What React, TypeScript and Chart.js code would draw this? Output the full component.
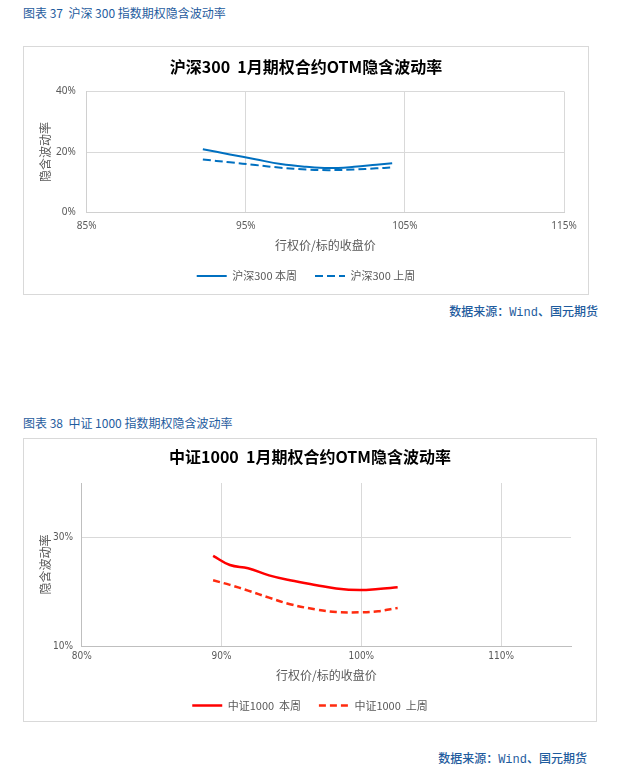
import React, { useEffect, useRef } from 'react';
import Chart from 'chart.js/auto';

// 沪深300 (figure 37)
const hs300Strikes = [92.3, 94.0, 95.6, 97.2, 98.8, 100.2, 101.8, 103.2, 104.2];
const hs300ThisWeek = [20.9, 19.2, 17.6, 16.0, 15.1, 14.7, 15.1, 15.8, 16.3];
const hs300LastWeek = [17.5, 16.6, 15.7, 14.8, 14.2, 14.0, 14.2, 14.6, 14.9];
const hs300XTicks = [85, 95, 105, 115];
const hs300YTicks = [0, 20, 40];

// 中证1000 (figure 38)
const zz1000Strikes = [89.4, 90.6, 91.9, 93.4, 94.9, 96.8, 98.2, 99.9, 101.2, 102.6];
const zz1000ThisWeek = [26.6, 24.9, 24.3, 23.0, 22.1, 21.2, 20.6, 20.3, 20.5, 20.8];
const zz1000LastWeek = [22.1, 21.25, 20.2, 18.9, 17.7, 16.7, 16.25, 16.2, 16.4, 17.0];
const zz1000XTicks = [80, 90, 100, 110];
const zz1000YTicks = [10, 30];

const cjk = '"Noto Sans CJK SC", "Noto Sans", sans-serif';
const narrow = '"Liberation Sans Narrow", "DejaVu Sans Condensed", "Noto Sans CJK SC", sans-serif';
const captionBlue = '#1F5C9E';
const grey = '#595959';

interface ChartSpec {
    title: string;
    labels: [string, string];
    strikes: number[];
    thisWeek: number[];
    lastWeek: number[];
    xTicks: number[];
    yTicks: number[];
    colors: [string, string];
    widths: [number, number];
    dash: number[];
    xMin: number; xMax: number;
    yMin: number; yMax: number;
    yAxisWidth: number;
    yTickPad: number;
    xTickPad: number;
    xAxisHeight: number;
    titlePad: { top: number; bottom: number };
    legendPad: number;
    bottomPad: number;
    rightPad: number;
    tickFont: string;
    gridColor: string;
    borderColor: string;
}

const VolChart: React.FC<{ spec: ChartSpec; width: number; height: number }> = ({ spec, width, height }) => {
    const canvasRef = useRef<HTMLCanvasElement>(null);
    const chartRef = useRef<Chart>();

    useEffect(() => {
        if (!canvasRef.current) return;
        const ctx = canvasRef.current.getContext('2d');
        if (!ctx) return;
        if (chartRef.current) chartRef.current.destroy();

        const s = spec;
        const defaultLabels = (Chart as any).defaults.plugins.legend.labels.generateLabels;

        chartRef.current = new Chart(ctx, {
            type: 'line',
            data: {
                datasets: [
                    {
                        label: s.labels[0],
                        data: s.strikes.map((x, i) => ({ x, y: s.thisWeek[i] })),
                        borderColor: s.colors[0],
                        backgroundColor: s.colors[0],
                        borderWidth: s.widths[0],
                        pointRadius: 0,
                        tension: 0.4,
                    },
                    {
                        label: s.labels[1],
                        data: s.strikes.map((x, i) => ({ x, y: s.lastWeek[i] })),
                        borderColor: s.colors[1],
                        backgroundColor: s.colors[1],
                        borderWidth: s.widths[1],
                        borderDash: s.dash,
                        pointRadius: 0,
                        tension: 0.4,
                    },
                ],
            },
            options: {
                animation: false,
                responsive: true,
                maintainAspectRatio: false,
                layout: { padding: { left: 0, top: 0, right: 0, bottom: s.bottomPad } },
                plugins: {
                    title: {
                        display: true,
                        text: s.title,
                        color: '#000000',
                        font: { family: cjk, size: 16, weight: 'bold', lineHeight: 1.2 },
                        padding: s.titlePad,
                    },
                    legend: {
                        position: 'bottom',
                        labels: {
                            usePointStyle: true,
                            pointStyle: 'line',
                            pointStyleWidth: 30,
                            padding: s.legendPad,
                            color: grey,
                            font: { family: cjk, size: 11 },
                            generateLabels: (chart: any) =>
                                defaultLabels(chart).map((item: any) => ({
                                    ...item,
                                    lineDash: chart.data.datasets[item.datasetIndex].borderDash || [],
                                    lineWidth: chart.data.datasets[item.datasetIndex].borderWidth,
                                    strokeStyle: chart.data.datasets[item.datasetIndex].borderColor,
                                })),
                        },
                    },
                    tooltip: { enabled: false },
                },
                scales: {
                    x: {
                        type: 'linear',
                        min: s.xMin,
                        max: s.xMax,
                        afterFit: (scale: any) => { scale.height = s.xAxisHeight; },
                        afterBuildTicks: (scale: any) => { scale.ticks = s.xTicks.map(value => ({ value })); },
                        ticks: {
                            padding: s.xTickPad,
                            color: grey,
                            font: { family: s.tickFont, size: 10 },
                            maxRotation: 0,
                            autoSkip: false,
                            callback: (v: string | number) => `${v}%`,
                        },
                        grid: { color: s.gridColor, drawTicks: false },
                        border: { color: s.borderColor },
                        title: {
                            display: true,
                            text: '行权价/标的收盘价',
                            color: grey,
                            font: { family: cjk, size: 12, lineHeight: 1.2 },
                            padding: { top: 0, bottom: 0 },
                        },
                    },
                    y: {
                        type: 'linear',
                        min: s.yMin,
                        max: s.yMax,
                        afterFit: (scale: any) => { scale.width = s.yAxisWidth; },
                        afterBuildTicks: (scale: any) => { scale.ticks = s.yTicks.map(value => ({ value })); },
                        ticks: {
                            padding: s.yTickPad,
                            color: grey,
                            font: { family: s.tickFont, size: 10 },
                            autoSkip: false,
                            callback: (v: string | number) => `${v}%`,
                        },
                        grid: { color: s.gridColor, drawTicks: false },
                        border: { color: s.borderColor },
                        title: {
                            display: true,
                            text: '隐含波动率',
                            color: grey,
                            font: { family: cjk, size: 12, lineHeight: 1.2 },
                            padding: { top: 13.8, bottom: 0 },
                        },
                    },
                    // empty right-hand spacer so the title and legend stay centred on the whole box
                    spacer: {
                        type: 'linear',
                        position: 'right',
                        afterFit: (scale: any) => { scale.width = s.rightPad; },
                        grid: { display: false, drawTicks: false },
                        border: { display: false },
                        ticks: { display: false },
                    },
                },
            },
        } as any);

        return () => {
            if (chartRef.current) {
                chartRef.current.destroy();
                chartRef.current = undefined;
            }
        };
    }, [spec]);

    return (
        <div style={{ position: 'relative', width, height }}>
            <canvas ref={canvasRef}></canvas>
        </div>
    );
};

const hs300Spec: ChartSpec = {
    title: '沪深300  1月期权合约OTM隐含波动率',
    labels: ['沪深300 本周', '沪深300 上周'],
    strikes: hs300Strikes,
    thisWeek: hs300ThisWeek,
    lastWeek: hs300LastWeek,
    xTicks: hs300XTicks,
    yTicks: hs300YTicks,
    colors: ['#0070C0', '#0070C0'],
    widths: [2, 2],
    dash: [8, 4],
    xMin: 85, xMax: 115,
    yMin: 0, yMax: 40,
    yAxisWidth: 62.7,
    yTickPad: 11,
    xTickPad: 7.4,
    xAxisHeight: 40,
    titlePad: { top: 10.1, bottom: 15.2 },
    legendPad: 18,
    bottomPad: 2.5,
    rightPad: 24,
    tickFont: '"Noto Sans", "Open Sans", sans-serif',
    gridColor: '#D9D9D9',
    borderColor: '#D0D0D0',
};

const zz1000Spec: ChartSpec = {
    title: '中证1000  1月期权合约OTM隐含波动率',
    labels: ['中证1000  本周', '中证1000  上周'],
    strikes: zz1000Strikes,
    thisWeek: zz1000ThisWeek,
    lastWeek: zz1000LastWeek,
    xTicks: zz1000XTicks,
    yTicks: zz1000YTicks,
    colors: ['#FF0000', '#FF2B0F'],
    widths: [2.5, 2.5],
    dash: [7, 4],
    xMin: 80, xMax: 115,
    yMin: 10, yMax: 40,
    yAxisWidth: 57.7,
    yTickPad: 8.7,
    xTickPad: 4,
    xAxisHeight: 36.2,
    titlePad: { top: 8.7, bottom: 16.1 },
    legendPad: 17.8,
    bottomPad: 0,
    rightPad: 25,
    tickFont: narrow,
    gridColor: '#D9D9D9',
    borderColor: '#BFBFBF',
};

const captionStyle: React.CSSProperties = {
    position: 'absolute',
    fontFamily: cjk,
    fontSize: 12,
    lineHeight: '14px',
    color: captionBlue,
    whiteSpace: 'nowrap',
};

const Source: React.FC<{ right: number; top: number }> = ({ right, top }) => (
    <div style={{ ...captionStyle, right: 618 - right, top, fontWeight: 500 }}>
        数据来源：<span style={{ fontFamily: '"Liberation Mono", "DejaVu Sans Mono", monospace', fontSize: 12 }}>Wind</span>、国元期货
    </div>
);

const boxStyle: React.CSSProperties = {
    position: 'absolute',
    border: '1px solid #D9D9D9',
    boxSizing: 'border-box',
    background: '#FFFFFF',
};

export default function App() {
    return (
        <div style={{ position: 'absolute', left: 0, top: 0, width: 618, height: 778, background: '#FFFFFF', overflow: 'hidden' }}>
            <div style={{ ...captionStyle, left: 23, top: 6 }}>图表 37&nbsp; 沪深 300 指数期权隐含波动率</div>
            <div style={{ ...boxStyle, left: 23, top: 46, width: 566, height: 249 }}>
                <VolChart spec={hs300Spec} width={564} height={247} />
            </div>
            <Source right={598} top={304} />

            <div style={{ ...captionStyle, left: 23, top: 416 }}>图表 38&nbsp; 中证 1000 指数期权隐含波动率</div>
            <div style={{ ...boxStyle, left: 23, top: 438, width: 574, height: 284 }}>
                <VolChart spec={zz1000Spec} width={572} height={282} />
            </div>
            <Source right={587} top={751} />
        </div>
    );
}
